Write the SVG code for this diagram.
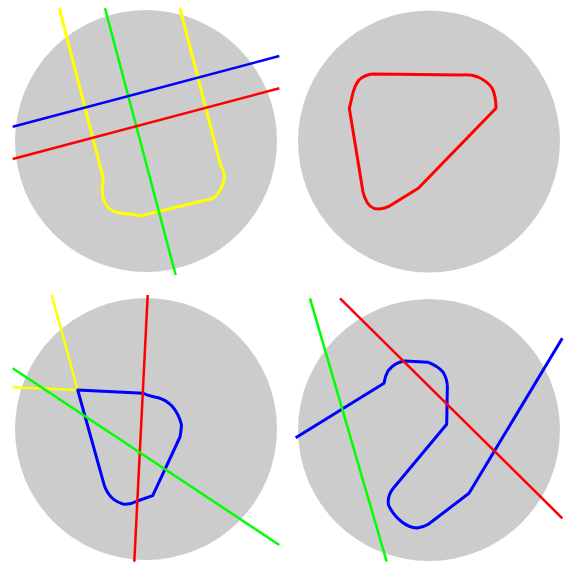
<svg xmlns="http://www.w3.org/2000/svg" width="569" height="564" viewBox="0 0 569 564">
<style>
.disc{fill:#cccccc}
.ln{fill:none;stroke-width:2.5;stroke-linecap:butt;stroke-linejoin:round}
.sh{fill:none;stroke-width:3;stroke-linejoin:round}
.y{stroke:#ffff00}.g{stroke:#00ff00}.b{stroke:#0000ff}.r{stroke:#ff0000}
</style>
<rect width="569" height="564" fill="#ffffff"/>
<g id="panel-top-left">
<circle class="disc" cx="146" cy="141" r="131"/>
<path class="sh y" d="M59.3,8.3 L103.3,178.3 Q101,190 103.5,200 Q107,208 113,211 Q120,214 132,214 L140,216 L213.3,198.3 Q221.7,191 224,180 Q225,171 221,166.7 L180,8.3"/>
<line class="ln g" x1="105" y1="8.3" x2="175.7" y2="275"/>
<line class="ln b" x1="12.7" y1="126.7" x2="279.3" y2="56"/>
<line class="ln r" x1="12.7" y1="159" x2="279.3" y2="88.3"/>
</g>
<g id="panel-top-right">
<circle class="disc" cx="429" cy="141.5" r="131"/>
<path class="sh r" d="M373.3,74 L461.7,75 Q470,74 478,77 Q487,81 492,88 Q496,96 496,108.3 L418.3,188.3 L388.3,206.7 Q382,210 374,208.5 Q366,205 363,192 L349.3,108.3 L351.7,98.3 Q354,86 359,80 Q365,74.5 373.3,74 Z"/>
</g>
<g id="panel-bottom-left">
<circle class="disc" cx="146" cy="429" r="131"/>
<polyline class="ln y" points="51.7,295 77.7,390 12.7,387.3"/>
<path class="sh b" d="M77.7,390 L143.3,393.3 Q148,396 158.3,397.7 Q166,400 172,406 Q179,414 181.5,425 Q181,432 180,437 L152.7,495.7 L137.3,501 Q130,505 123,504 Q113,501 108,493 Q105,488 104,484.3 Z"/>
<line class="ln r" x1="147.7" y1="295" x2="134.3" y2="561.7"/>
<line class="ln g" x1="12.7" y1="368.3" x2="279.3" y2="545"/>
</g>
<g id="panel-bottom-right">
<circle class="disc" cx="429" cy="430" r="131"/>
<path class="sh b" d="M295.7,437.7 L384,383.3 Q385,376 388,371 Q395,362 405,361 L428.3,362.3 Q438,366 443,372 Q448,380 447.3,390 L446.7,424.3 L393.3,488.3 Q387,496 388.5,505 Q393,515 402,522 Q409,527.5 417,528 Q424,527 428.3,524.3 L469,493.3 L562.3,338.3"/>
<line class="ln g" x1="310" y1="298.3" x2="386.7" y2="561.7"/>
<line class="ln r" x1="340" y1="298.3" x2="562.3" y2="518.3"/>
</g>
</svg>
